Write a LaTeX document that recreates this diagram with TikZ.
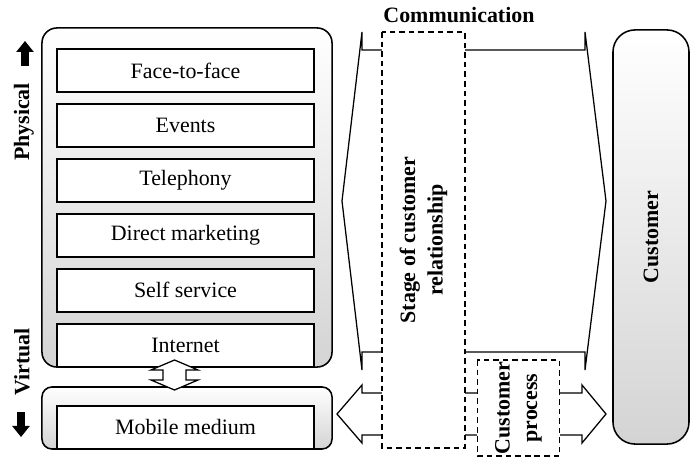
\documentclass[tikz,border=0pt]{standalone}
\usepackage{fontspec}
\setmainfont{Liberation Serif}
\usetikzlibrary{positioning,arrows.meta}
\tikzset{
	mybox/.style={draw,fill=white,line width=1.1pt,minimum width=6.425cm,minimum height=1.075cm,inner sep=0pt},
	myframe/.style={draw,line width=1.1pt,top color=white,bottom color=black!17,rounded corners=0.375cm},
	mydash/.style={draw,fill=white,line width=1pt,dash pattern=on 4pt off 2.8pt,inner sep=0pt},
	mytitle/.style={font=\bfseries},
	myshape/.style={draw,fill=white,line width=0.9pt,line join=miter},
	myarrow1/.style={-{Triangle[length=0.275cm,width=0.425cm]},line width=0.2cm}
}

\begin{document}
\fontsize{15.6}{19.5}\selectfont
\begin{tikzpicture}[x=0.025cm,y=-0.025cm]
		\useasboundingbox (0,0) rectangle (690,457);
		\node[myframe,minimum width=7.25cm,minimum height=8.475cm](chanframe) at (187,197.5){};
		\node[myframe,rounded corners=0.25cm,minimum width=7.25cm,minimum height=1.55cm](mobframe) at (187,418){};
		\node[mybox](facetoface) at (185.5,70.5){Face-to-face};
		\node[below = 0.26 cm of facetoface,mybox](events){Events};
		\node[below = 0.26 cm of events,mybox](telephony){Telephony};
		\node[below = 0.26 cm of telephony,mybox](direct){Direct marketing};
		\node[below = 0.26 cm of direct,mybox](selfservice){Self service};
		\node[below = 0.26 cm of selfservice,mybox](internet){Internet};
		\node[below = 0.94 cm of internet,mybox](mobile){Mobile medium};
		\draw[myshape] (174.5,360) -- (198,370) -- (186,370) -- (186,380) -- (198,380) -- (174.5,390)
			-- (151,380) -- (163,380) -- (163,370) -- (151,370) -- cycle;
		\draw[myshape] (362,32) -- (342,201) -- (362,370) -- (362,352) -- (585,352) -- (585,370)
			-- (606,201) -- (585,32) -- (585,50) -- (362,50) -- cycle;
		\draw[myshape] (337,414) -- (362,385) -- (362,393) -- (582,393) -- (582,385) -- (606,414)
			-- (582,443) -- (582,435) -- (362,435) -- (362,443) -- cycle;
		\node[mydash,mytitle,rotate=90,align=center,minimum width=10.4cm,minimum height=2.075cm](stage) at (423.5,240){Stage of customer\\relationship};
		\node[mydash,mytitle,rotate=90,align=center,minimum width=2.4cm,minimum height=2.05cm](process) at (518.5,408){Customer\\process};
		\node[myframe,rounded corners=0.55cm,minimum width=1.9cm,minimum height=10.35cm](customerbox) at (651,237){};
		\node[mytitle,rotate=90](customer) at (customerbox.center){Customer};
		\node[mytitle](comm) at (459,15){Communication};
		\node[mytitle,rotate=90](physical) at (24,122){Physical};
		\node[mytitle,rotate=90](virtual) at (22,362){Virtual};
		\draw[myarrow1] (25,66) -- (25,41);
		\draw[myarrow1] (21,412) -- (21,437);
	\end{tikzpicture}
\end{document}
